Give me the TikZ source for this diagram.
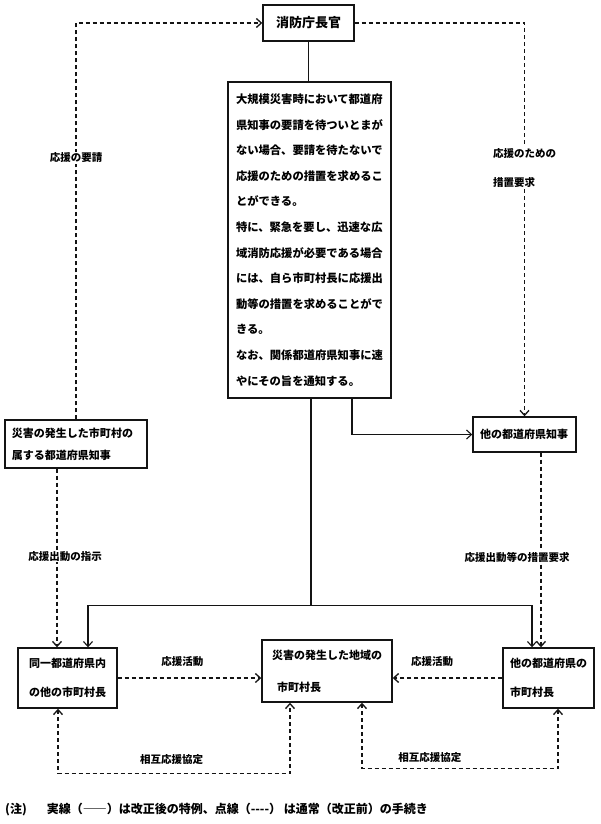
\documentclass[tikz,border=0pt]{standalone}
\usepackage{fontspec}
\setmainfont{Noto Sans CJK JP}
\usepackage{tikz}
\usetikzlibrary{arrows.meta,calc}
\usepackage{xcolor}
\definecolor{fdmaInk}{HTML}{141414}

\begin{document}
\begin{tikzpicture}[
        x=1pt, y=-1pt,
        box/.style={
            draw=fdmaInk,
            line width=1.4pt,
            inner sep=0pt,
            align=left,
            font=\fontsize{11}{22}\selectfont\bfseries
        },
        lbl/.style={
            fill=white,
            inner sep=1pt,
            align=left,
            font=\fontsize{10.5}{29}\selectfont\bfseries
        },
        tag/.style={
            inner sep=1pt,
            font=\fontsize{10.5}{13}\selectfont\bfseries
        },
        link/.style={
            line width=1.1pt,
            draw=fdmaInk
        },
        arrow/.style={
            link,
            -{Straight Barb[length=5pt,width=9pt]}
        },
        dasharrow/.style={
            arrow,
            line width=1.3pt,
            dash pattern=on 4pt off 3pt
        },
        twoway/.style={
            dasharrow,
            {Straight Barb[length=5pt,width=9pt]}-{Straight Barb[length=5pt,width=9pt]}
        }
    ]
    \useasboundingbox (0,0) rectangle (600,824);

    \node[box, align=center, font=\fontsize{13}{16}\selectfont\bfseries,
        minimum width=91pt, minimum height=36pt] (chief) at (308.5,23)
        {消防庁長官};

    \node[box, text width=147pt, minimum width=163pt, minimum height=316pt,
        font=\fontsize{11.3}{25.6}\selectfont\bfseries] (rule) at (309.5,240)
        {大規模災害時において都道府\\県知事の要請を待ついとまが\\ない場合、要請を待たないで\\応援のための措置を求めるこ\\とができる。\\特に、緊急を要し、迅速な広\\域消防応援が必要である場合\\には、自ら市町村長に応援出\\動等の措置を求めることがで\\きる。\\なお、関係都道府県知事に速\\やにその旨を通知する。};

    \node[box, text width=128pt, minimum width=142pt, minimum height=48pt]
        (govHome) at (76,444) {災害の発生した市町村の\\属する都道府県知事};

    \node[box, text width=89pt, minimum width=103pt, minimum height=35pt]
        (govOther) at (524.5,434.5) {他の都道府県知事};

    \node[box, text width=77pt, minimum width=99pt, minimum height=60pt,
        font=\fontsize{11}{29}\selectfont\bfseries] (mayorSame) at (67.5,678)
        {同一都道府県内\\の他の市町村長};

    \node[box, text width=110pt, minimum width=130pt, minimum height=62pt,
        font=\fontsize{11}{32}\selectfont\bfseries] (mayorHit) at (327,671)
        {災害の発生した地域の\\\hspace*{5pt}市町村長};

    \node[box, text width=77pt, minimum width=91pt, minimum height=60pt,
        font=\fontsize{11}{29}\selectfont\bfseries] (mayorOther) at (548.5,678)
        {他の都道府県の\\市町村長};

    \draw[link] (chief.south) -- (chief.south |- rule.north);

    \draw[dasharrow] (govHome.north) |- (chief.west)
        node[lbl, pos=0.33] (askLbl) {応援の要請};

    \draw[dasharrow] (chief.east) -| (govOther.north)
        node[lbl, pos=0.684] (measLbl) {応援のための\\措置要求};

    \draw[arrow] ([xshift=42.5pt]rule.south) |- (govOther.west);

    \coordinate (fork) at ([xshift=1.5pt,yshift=-207pt]rule.south);
    \draw[link] ([xshift=1.5pt]rule.south) -- (fork);
    \draw[arrow] (fork) -| ([xshift=20.5pt]mayorSame.north);
    \draw[arrow] (fork) -| ([xshift=-16.5pt]mayorOther.north);

    \draw[dasharrow] ([xshift=-19pt]govHome.south)
        -- ([xshift=-19pt]govHome.south |- mayorSame.north)
        node[lbl, pos=0.49, xshift=8pt] (orderLbl) {応援出動の指示};

    \draw[dasharrow] ([xshift=16.5pt]govOther.south)
        -- ([xshift=16.5pt]govOther.south |- mayorOther.north)
        node[lbl, pos=0.536, xshift=-24pt] (reqLbl) {応援出動等の措置要求};

    \draw[dasharrow] (mayorSame.east) -- (mayorSame.east -| mayorHit.west)
        node[tag, pos=0.45, yshift=16pt] (helpL) {応援活動};

    \draw[dasharrow] (mayorOther.west) -- (mayorOther.west -| mayorHit.east)
        node[tag, pos=0.64, yshift=16pt] (helpR) {応援活動};

    \draw[twoway] ([xshift=-9.5pt]mayorSame.south)
        |- ([xshift=-37pt,yshift=-71pt]mayorHit.south)
        node[tag, pos=0.745, yshift=14pt] (pactL) {相互応援協定}
        -- ([xshift=-37pt]mayorHit.south);

    \draw[twoway] ([xshift=35pt]mayorHit.south)
        |- ([xshift=9.5pt,yshift=-60pt]mayorOther.south)
        node[tag, pos=0.673, yshift=11pt] (pactR) {相互応援協定}
        -- ([xshift=9.5pt]mayorOther.south);

    \node[anchor=west, inner sep=0pt, font=\fontsize{12}{14}\selectfont\bfseries]
        (note) at (5,810)
        {(注)\hspace{20pt}実線（――）は改正後の特例、点線（{-}{-}{-}{-}） は通常（改正前）の手続き};

\end{tikzpicture}
\end{document}
